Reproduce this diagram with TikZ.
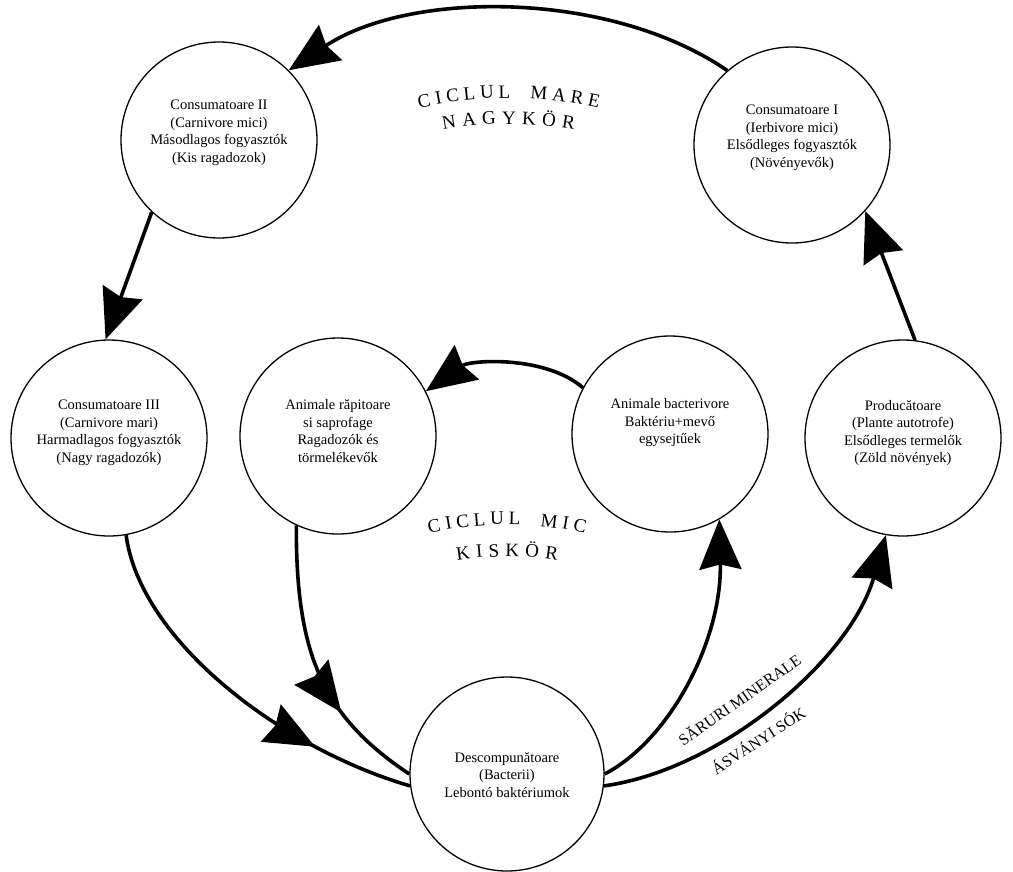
\documentclass[tikz,border=0pt]{standalone}
\usepackage{fontspec}
\setmainfont{Liberation Serif}
\usetikzlibrary{arrows.meta,decorations.markings}
\begin{document}
\begin{tikzpicture}[x=1pt,y=-1pt,
  stage/.style={circle,draw,line width=1.3pt,minimum size=196pt,inner sep=0pt},
  txt/.style={align=center,font=\fontsize{14.5}{17.5}\selectfont,inner sep=0pt},
  flow/.style={line width=3.6pt},
  bighead/.style={-{Stealth[length=50pt,width=42pt,inset=5pt]}},
  midarrow/.style={postaction={decorate},decoration={markings,mark=at position #1 with {\arrow{Stealth[length=50pt,width=42pt,inset=5pt]}}}},
  arcletter/.style={font=\fontsize{19}{19}\selectfont,anchor=base,inner sep=0pt},
  side/.style={font=\fontsize{16}{16}\selectfont,inner sep=0pt}
]
\useasboundingbox (0,0) rectangle (1013,871);

% circles
\node[stage] (c2) at (219,140) {};
\node[stage] (c1) at (792,145) {};
\node[stage] (c3) at (109,438) {};
\node[stage] (ar) at (338,436) {};
\node[stage] (ab) at (670,434) {};
\node[stage] (pr) at (903,438) {};
\node[stage,minimum size=194pt] (de) at (507,774) {};

% texts
\node[txt] (c2t) at (219,133) {Consumatoare II\\(Carnivore mici)\\Másodlagos fogyasztók\\(Kis ragadozok)};
\node[txt] (c1t) at (792,138) {Consumatoare I\\(Ierbivore mici)\\Elsődleges fogyasztók\\(Növényevők)};
\node[txt] (c3t) at (109,433) {Consumatoare III\\(Carnivore mari)\\Harmadlagos fogyasztók\\(Nagy ragadozók)};
\node[txt] (art) at (338,431) {Animale răpitoare\\si saprofage\\Ragadozók és\\törmelékevők};
\node[txt] (abt) at (670,423) {Animale bacterivore\\Baktériu+mevő\\egysejtűek};
\node[txt] (prt) at (903,433) {Producătoare\\(Plante autotrofe)\\Elsődleges termelők\\(Zöld növények)};
\node[txt] (det) at (507,775) {Descompunătoare\\(Bacterii)\\Lebontó baktériumok};

% connectors
\draw[flow,bighead] (c1.131) .. controls (610,-10) and (410,-10) .. (c2.45);
\draw[flow,bighead] (c2.-133) -- (c3.92);
\draw[flow,midarrow=0.74] (c3.-80) .. controls (140,640) and (280,748) .. (de.187);
\draw[flow,midarrow=0.68] (ar.-115) .. controls (296,650) and (320,715) .. (de.180);
\draw[flow,bighead] (de.0) .. controls (670,740) and (722,640) .. (ab.-60);
\draw[flow,bighead] (de.-7) .. controls (720,770) and (850,660) .. (pr.-100);
\draw[flow,bighead] (pr.83) -- (c1.-42);
\draw[flow,bighead] (ab.152) .. controls (545,355) and (470,360) .. (ar.27);

% curved titles
\foreach \ch/\x [count=\i] in {C/425.4,I/439.4,C/453.4,L/470,U/487.2,L/504.3,M/538.6,A/558.4,R/576.1,E/592.7}{
  \pgfmathsetmacro\ang{asin((\x-509)/403)}
  \pgfmathsetmacro\rot{-\ang}
  \pgfmathsetmacro\yy{501-403*cos(\ang)}
  \node[arcletter,rotate=\rot] (mare\i) at (\x,\yy) {\ch};
}
\foreach \ch/\x [count=\i] in {N/449.9,A/469.6,G/489.3,Y/509,K/528.7,Ö/548.4,R/567.6}{
  \pgfmathsetmacro\ang{asin((\x-509)/377)}
  \pgfmathsetmacro\rot{-\ang}
  \pgfmathsetmacro\yy{501-377*cos(\ang)}
  \node[arcletter,rotate=\rot] (nagy\i) at (\x,\yy) {\ch};
}
\foreach \ch/\x [count=\i] in {C/435.4,I/449.4,C/463.4,L/480,U/497.2,L/514.3,M/548.6,I/564.7,C/578.7}{
  \pgfmathsetmacro\ang{asin((\x-507)/342)}
  \pgfmathsetmacro\rot{-\ang}
  \pgfmathsetmacro\yy{866.5-342*cos(\ang)}
  \node[arcletter,rotate=\rot] (mic\i) at (\x,\yy) {\ch};
}
\foreach \ch/\x [count=\i] in {K/463.9,I/479.8,S/494.1,K/512.2,Ö/531.8,R/550.9}{
  \pgfmathsetmacro\ang{asin((\x-507)/310)}
  \pgfmathsetmacro\rot{-\ang}
  \pgfmathsetmacro\yy{866.5-310*cos(\ang)}
  \node[arcletter,rotate=\rot] (kis\i) at (\x,\yy) {\ch};
}

% mineral salts labels
\node[side,rotate=35] (sar) at (739,699) {SĂRURI MINERALE};
\node[side,rotate=33] (asv) at (758,740) {ÁSVÁNYI SÓK};
\end{tikzpicture}
\end{document}
